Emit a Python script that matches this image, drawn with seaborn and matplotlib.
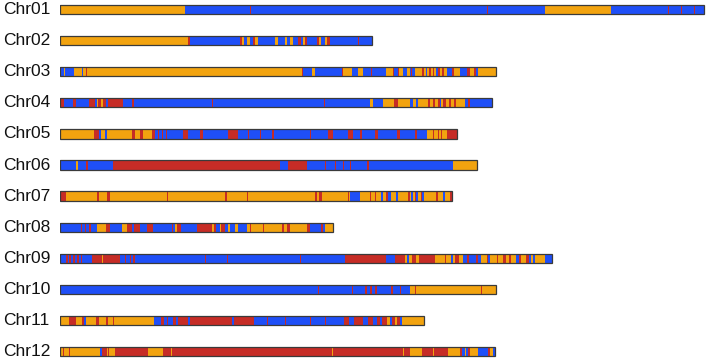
import pandas as pd
import seaborn as sns
import matplotlib.pyplot as plt

# genotype blocks per chromosome: (start, genotype); block ends at next start or chrom length
# A = parent A (orange), B = parent B (blue), H = heterozygous (red)
chrom_names = ["Chr01", "Chr02", "Chr03", "Chr04", "Chr05", "Chr06",
               "Chr07", "Chr08", "Chr09", "Chr10", "Chr11", "Chr12"]
chrom_lengths = [644, 312, 436, 432, 397, 417, 392, 273, 492, 436, 364, 435]

chr01 = [(0, 'H'), (1, 'A'), (125, 'B'), (190, 'H'), (191, 'B'), (427, 'H'), (428, 'B'),
         (485, 'A'), (551, 'B'), (608, 'H'), (609, 'B'), (621, 'H'), (622, 'B'),
         (634, 'H'), (635, 'B')]
chr02 = [(0, 'A'), (128, 'H'), (130, 'B'), (180, 'H'), (182, 'A'), (184, 'B'), (187, 'A'),
         (190, 'B'), (193, 'H'), (195, 'A'), (198, 'B'), (215, 'A'), (218, 'B'), (225, 'A'),
         (227, 'B'), (230, 'A'), (233, 'B'), (238, 'H'), (241, 'B'), (243, 'A'), (245, 'H'),
         (247, 'B'), (257, 'H'), (259, 'A'), (261, 'B'), (265, 'A'), (267, 'H'), (270, 'B'),
         (298, 'H'), (299, 'B')]
chr03 = [(0, 'B'), (4, 'A'), (5, 'B'), (14, 'A'), (22, 'B'), (23, 'A'), (26, 'H'), (27, 'A'),
         (242, 'H'), (243, 'B'), (252, 'A'), (255, 'B'), (282, 'H'), (283, 'A'), (292, 'B'),
         (298, 'A'), (303, 'B'), (311, 'H'), (312, 'B'), (326, 'A'), (333, 'H'), (334, 'B'),
         (338, 'H'), (339, 'A'), (343, 'B'), (347, 'A'), (350, 'B'), (351, 'H'), (352, 'B'),
         (355, 'A'), (362, 'H'), (364, 'A'), (366, 'B'), (367, 'A'), (369, 'H'), (371, 'A'),
         (373, 'H'), (374, 'A'), (376, 'B'), (378, 'H'), (380, 'A'), (382, 'H'), (384, 'A'),
         (387, 'B'), (392, 'H'), (394, 'A'), (400, 'B'), (407, 'H'), (410, 'A'), (414, 'H'),
         (416, 'B'), (418, 'A')]
chr04 = [(0, 'H'), (4, 'B'), (13, 'H'), (16, 'B'), (29, 'H'), (35, 'B'), (37, 'A'), (38, 'H'),
         (41, 'A'), (43, 'H'), (46, 'B'), (48, 'H'), (63, 'B'), (72, 'H'), (74, 'B'), (152, 'H'),
         (153, 'B'), (264, 'H'), (265, 'B'), (310, 'A'), (313, 'B'), (323, 'A'), (334, 'H'),
         (338, 'A'), (350, 'B'), (353, 'A'), (356, 'B'), (358, 'A'), (368, 'H'), (370, 'A'),
         (373, 'H'), (375, 'A'), (378, 'H'), (380, 'B'), (381, 'A'), (383, 'H'), (386, 'A'),
         (389, 'H'), (391, 'A'), (394, 'H'), (396, 'A'), (405, 'B'), (408, 'H'), (410, 'B')]
chr05 = [(0, 'A'), (34, 'H'), (39, 'B'), (41, 'A'), (45, 'B'), (47, 'A'), (72, 'H'), (75, 'A'),
         (80, 'H'), (83, 'A'), (92, 'H'), (95, 'B'), (98, 'H'), (99, 'B'), (102, 'H'), (103, 'B'),
         (106, 'H'), (107, 'B'), (123, 'H'), (128, 'B'), (140, 'H'), (143, 'B'), (168, 'H'),
         (178, 'B'), (188, 'H'), (189, 'B'), (200, 'H'), (201, 'B'), (212, 'H'), (214, 'B'),
         (250, 'H'), (251, 'B'), (268, 'H'), (273, 'B'), (288, 'H'), (293, 'B'), (300, 'H'),
         (302, 'B'), (315, 'H'), (318, 'B'), (337, 'H'), (340, 'B'), (355, 'H'), (357, 'B'),
         (367, 'A'), (373, 'H'), (374, 'A'), (378, 'H'), (379, 'A'), (381, 'H'), (382, 'A'),
         (387, 'H')]
chr06 = [(0, 'B'), (16, 'A'), (18, 'B'), (26, 'H'), (28, 'B'), (53, 'H'), (220, 'B'), (228, 'H'),
         (247, 'B'), (265, 'H'), (266, 'B'), (275, 'H'), (276, 'B'), (283, 'H'), (284, 'B'),
         (290, 'H'), (291, 'B'), (307, 'H'), (309, 'B'), (393, 'A')]
chr07 = [(0, 'H'), (6, 'A'), (37, 'H'), (39, 'A'), (47, 'H'), (50, 'A'), (107, 'H'), (108, 'A'),
         (165, 'H'), (167, 'A'), (187, 'H'), (188, 'A'), (255, 'H'), (257, 'A'), (259, 'H'),
         (262, 'A'), (288, 'H'), (289, 'A'), (290, 'B'), (300, 'A'), (310, 'H'), (311, 'A'),
         (315, 'H'), (316, 'A'), (321, 'B'), (323, 'A'), (326, 'H'), (328, 'B'), (331, 'A'),
         (336, 'B'), (338, 'A'), (348, 'H'), (350, 'A'), (351, 'B'), (353, 'A'), (355, 'H'),
         (356, 'B'), (358, 'A'), (361, 'H'), (362, 'B'), (364, 'A'), (376, 'H'), (378, 'A'),
         (383, 'B'), (385, 'A'), (390, 'H')]
chr08 = [(0, 'B'), (21, 'H'), (22, 'B'), (25, 'H'), (26, 'B'), (29, 'H'), (31, 'B'), (37, 'A'),
         (46, 'H'), (50, 'B'), (62, 'A'), (67, 'H'), (72, 'B'), (74, 'H'), (80, 'B'), (87, 'H'),
         (93, 'B'), (112, 'H'), (113, 'B'), (115, 'A'), (117, 'H'), (121, 'B'), (137, 'H'),
         (152, 'A'), (154, 'H'), (156, 'B'), (160, 'A'), (161, 'H'), (165, 'B'), (168, 'A'),
         (170, 'B'), (175, 'A'), (178, 'B'), (187, 'A'), (190, 'H'), (191, 'A'), (203, 'H'),
         (204, 'A'), (222, 'H'), (224, 'A'), (227, 'H'), (230, 'A'), (247, 'H'), (250, 'B'),
         (261, 'H'), (263, 'B'), (265, 'A')]
chr09 = [(0, 'B'), (6, 'H'), (8, 'B'), (9, 'H'), (11, 'B'), (13, 'H'), (15, 'B'), (17, 'H'),
         (19, 'B'), (21, 'H'), (22, 'B'), (32, 'H'), (42, 'A'), (43, 'H'), (60, 'B'), (65, 'H'),
         (66, 'B'), (70, 'H'), (71, 'B'), (73, 'H'), (75, 'B'), (145, 'H'), (146, 'B'),
         (167, 'H'), (168, 'B'), (240, 'H'), (241, 'B'), (285, 'H'), (326, 'B'), (335, 'H'),
         (345, 'A'), (347, 'B'), (349, 'A'), (352, 'H'), (356, 'A'), (359, 'H'), (375, 'A'),
         (385, 'H'), (386, 'A'), (391, 'B'), (393, 'A'), (395, 'H'), (399, 'A'), (403, 'B'),
         (407, 'H'), (409, 'B'), (416, 'H'), (418, 'B'), (421, 'A'), (427, 'H'), (428, 'B'),
         (430, 'A'), (437, 'H'), (438, 'A'), (443, 'H'), (446, 'A'), (449, 'H'), (451, 'A'),
         (456, 'B'), (459, 'H'), (461, 'A'), (466, 'H'), (469, 'B'), (471, 'A'), (473, 'B'),
         (475, 'A'), (485, 'B')]
chr10 = [(0, 'B'), (258, 'H'), (259, 'B'), (292, 'H'), (293, 'B'), (305, 'H'), (307, 'B'),
         (310, 'H'), (312, 'B'), (315, 'H'), (317, 'B'), (331, 'H'), (333, 'B'), (340, 'H'),
         (341, 'B'), (350, 'A'), (355, 'H'), (356, 'A'), (421, 'H'), (422, 'A')]
chr11 = [(0, 'A'), (9, 'H'), (16, 'A'), (22, 'H'), (24, 'B'), (26, 'A'), (36, 'H'), (39, 'A'),
         (46, 'H'), (48, 'A'), (53, 'H'), (54, 'A'), (94, 'B'), (101, 'H'), (104, 'B'),
         (107, 'H'), (108, 'B'), (113, 'H'), (116, 'B'), (118, 'H'), (128, 'B'), (130, 'H'),
         (172, 'B'), (174, 'H'), (194, 'B'), (207, 'H'), (208, 'B'), (225, 'H'), (226, 'B'),
         (250, 'H'), (251, 'B'), (265, 'H'), (266, 'B'), (284, 'H'), (289, 'B'), (294, 'H'),
         (303, 'B'), (308, 'H'), (313, 'B'), (317, 'H'), (320, 'B'), (322, 'H'), (327, 'A'),
         (330, 'B'), (332, 'H'), (335, 'A'), (337, 'H'), (340, 'B'), (342, 'A')]
chr12 = [(0, 'A'), (3, 'H'), (4, 'A'), (9, 'H'), (10, 'A'), (40, 'B'), (42, 'H'), (47, 'A'),
         (48, 'H'), (49, 'A'), (55, 'H'), (88, 'A'), (103, 'H'), (111, 'A'), (112, 'H'),
         (272, 'A'), (273, 'H'), (343, 'A'), (344, 'H'), (350, 'A'), (362, 'H'), (373, 'A'),
         (374, 'H'), (388, 'A'), (400, 'H'), (402, 'B'), (405, 'A'), (406, 'B'), (408, 'H'),
         (410, 'A'), (418, 'B'), (428, 'H'), (430, 'A'), (433, 'B')]

blocks = [chr01, chr02, chr03, chr04, chr05, chr06, chr07, chr08, chr09, chr10, chr11, chr12]
geno_colors = {'A': '#F2A30F', 'B': '#1F4FF7', 'H': '#C62C26'}

# flatten to a segment table
rows = []
for i, (segs, length) in enumerate(zip(blocks, chrom_lengths)):
    for j, (start, g) in enumerate(segs):
        end = segs[j + 1][0] if j + 1 < len(segs) else length
        rows.append({'chrom': i, 'start': start, 'width': end - start, 'geno': g})
df = pd.DataFrame(rows)

sns.set_theme(style="white")
plt.rcParams['font.family'] = ['Liberation Sans', 'DejaVu Sans']

fig = plt.figure(figsize=(7.09, 3.63), dpi=100)
ax = fig.add_axes([60 / 709, 0, 649 / 709, 1])

bar_h = 0.30
for g, sub in df.groupby('geno'):
    ax.barh(sub['chrom'], sub['width'], left=sub['start'], height=bar_h,
            color=geno_colors[g], linewidth=0)

# chromosome outlines
ax.barh(range(len(chrom_names)), chrom_lengths, left=0, height=bar_h,
        fill=False, edgecolor='#3a3a3a', linewidth=0.9)

for i, name in enumerate(chrom_names):
    ax.text(-57, i, name, ha='left', va='center', fontsize=12.5, color='#111111')

ax.set_xlim(0, 649)
ax.set_ylim(11.36, -0.3)
ax.axis('off')

fig.savefig('out.png', dpi=100)
